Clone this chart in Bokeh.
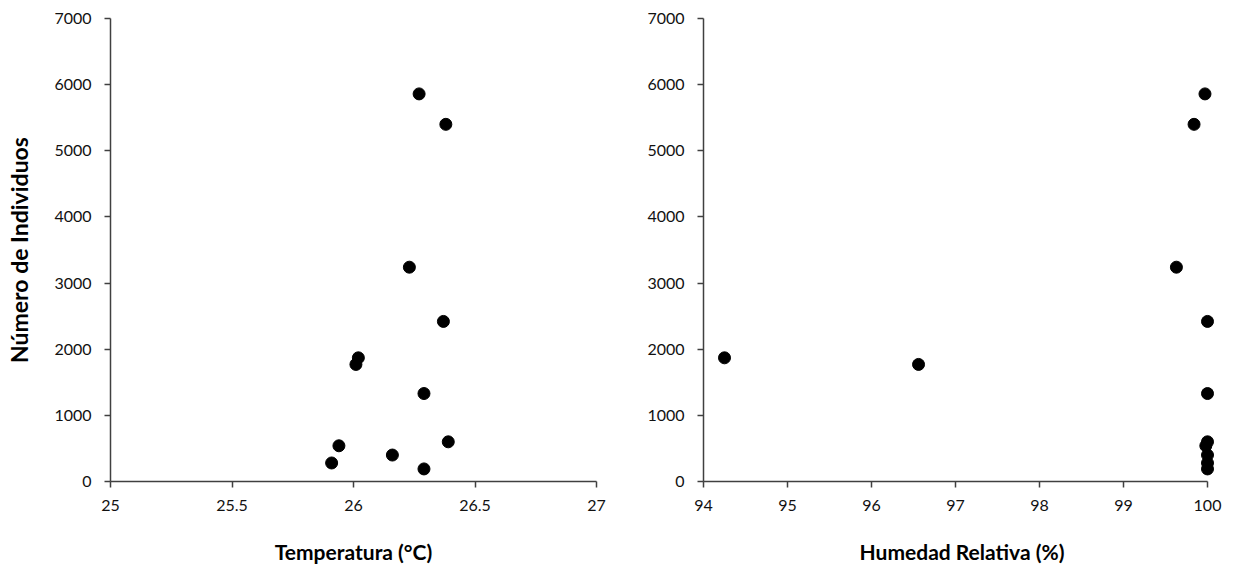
from bokeh.plotting import figure
from bokeh.layouts import row
from bokeh.models import FixedTicker, Range1d
from bokeh.embed import file_html
from bokeh.resources import INLINE

# Data
individuos = [5860, 5400, 3240, 2420, 1870, 1770, 1330, 600, 540, 400, 280, 190]
temperatura = [26.27, 26.38, 26.23, 26.37, 26.02, 26.01, 26.29, 26.39, 25.94, 26.16, 25.91, 26.29]
humedad = [99.97, 99.84, 99.63, 100.0, 94.25, 96.56, 100.0, 100.0, 99.98, 100.0, 100.0, 100.0]

temp_ticks = [25, 25.5, 26, 26.5, 27]
temp_labels = ["25", "25.5", "26", "26.5", "27"]
hum_ticks = [94, 95, 96, 97, 98, 99, 100]
y_ticks = [0, 1000, 2000, 3000, 4000, 5000, 6000, 7000]

FONT = "Lato"
AX_COLOR = "#404040"


def style(p, xticks, xlabels=None):
    p.outline_line_color = None
    p.xgrid.grid_line_color = None
    p.ygrid.grid_line_color = None
    for ax in (p.xaxis[0], p.yaxis[0]):
        ax.axis_line_color = AX_COLOR
        ax.axis_line_width = 1.5
        ax.major_tick_line_color = AX_COLOR
        ax.major_tick_line_width = 1.5
        ax.major_tick_in = 0
        ax.major_tick_out = 6
        ax.minor_tick_line_color = None
        ax.major_label_text_font = FONT
        ax.major_label_text_font_size = "16px"
        ax.major_label_text_color = "#111111"
        ax.axis_label_text_font = FONT
        ax.axis_label_text_font_size = "21px"
        ax.axis_label_text_font_style = "bold"
        ax.axis_label_text_color = "#000000"
    p.xaxis[0].ticker = FixedTicker(ticks=xticks)
    p.xaxis[0].bounds = (xticks[0], xticks[-1])
    if xlabels is not None:
        p.xaxis[0].major_label_overrides = {t: l for t, l in zip(xticks, xlabels)}
    p.yaxis[0].ticker = FixedTicker(ticks=y_ticks)
    p.xaxis[0].major_label_standoff = 12
    p.yaxis[0].major_label_standoff = 13
    p.xaxis[0].axis_label_standoff = 25


left = figure(frame_width=486, frame_height=463,
              min_border_left=110, min_border_right=44,
              min_border_top=18, min_border_bottom=92,
              x_range=Range1d(25, 27), y_range=Range1d(0, 7000),
              output_backend="svg", toolbar_location=None)
left.scatter(temperatura, individuos, size=12, color="black")
left.xaxis.axis_label = "Temperatura (°C)"
left.yaxis.axis_label = "Número de Individuos"
style(left, temp_ticks, temp_labels)
left.yaxis[0].axis_label_text_font_size = "23px"
left.yaxis[0].axis_label_standoff = 18

# right panel: 84 px per unit, frame extended a little past 100 so the
# markers at 100 are not clipped (axis line bounded at 100)
right = figure(frame_width=517, frame_height=463,
               min_border_left=63, min_border_right=13,
               min_border_top=18, min_border_bottom=92,
               x_range=Range1d(94, 94 + 517 / 84), y_range=Range1d(0, 7000),
               output_backend="svg", toolbar_location=None)
right.scatter(humedad, individuos, size=12, color="black")
right.xaxis.axis_label = "Humedad Relativa (%)"
style(right, hum_ticks)

layout = row(left, right)
open("out.html", "w").write(file_html(layout, INLINE))
